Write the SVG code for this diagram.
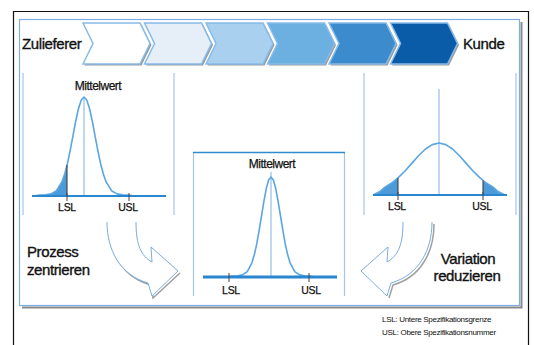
<svg xmlns="http://www.w3.org/2000/svg" width="534" height="345" viewBox="0 0 534 345">
<style>
.t{font-family:"Liberation Sans",Arial,sans-serif;fill:#111}
.big{font-size:15px;letter-spacing:-0.4px;stroke:#111;stroke-width:0.35}
.mw{font-size:12px;letter-spacing:-0.5px;text-anchor:middle;stroke:#111;stroke-width:0.25}
.lab{font-size:10.5px;letter-spacing:-0.3px;text-anchor:middle;stroke:#111;stroke-width:0.25}
.fn{font-size:8px;letter-spacing:-0.3px}
.chev{stroke:#86bbe8;stroke-width:1.5;stroke-linejoin:miter}
.chs{fill:#9a9a9a}
.div{stroke:#a6c3ea;stroke-width:1.2;fill:none}
.curve{fill:none;stroke:#5aa6e3;stroke-width:1.6;stroke-linejoin:round}
.mean{stroke:#7fb2e4;stroke-width:1}
.base{stroke:#2a86cf}
.tick{stroke:#444;stroke-width:1}
.shade{fill:#4c9ad8}
.arrow{fill:#fff;stroke:#79ade0;stroke-width:1}
.arrsh{fill:none;stroke:#a0a0a0;stroke-width:1.5}
</style>
<defs>
<polygon id="chv" points="0,0 57,0 67,20.5 57,41 0,41 10,20.5"/>
</defs>
<rect x="0" y="0" width="534" height="345" fill="#fff"/>
<path d="M13.5,345 V11.5 H528.5 V345" fill="none" stroke="#111" stroke-width="1.2"/>
<path d="M22,307.5 H521.5 V22" fill="none" stroke="#8a8a8a" stroke-width="2"/>
<rect x="19.5" y="19.5" width="500" height="286" fill="#fff" stroke="#7eaee6" stroke-width="1.2"/>

<g id="process-chevrons">
  <g id="chevron-1"><use href="#chv" x="84.5" y="24.5" class="chs"/><use href="#chv" x="83" y="23" class="chev" fill="#ffffff" stroke="#6aa9e2"/></g>
  <g id="chevron-2"><use href="#chv" x="146" y="24.5" class="chs"/><use href="#chv" x="144.5" y="23" class="chev" fill="#e6eef7"/></g>
  <g id="chevron-3"><use href="#chv" x="207.5" y="24.5" class="chs"/><use href="#chv" x="206" y="23" class="chev" fill="#a9d0ef"/></g>
  <g id="chevron-4"><use href="#chv" x="269" y="24.5" class="chs"/><use href="#chv" x="267.5" y="23" class="chev" fill="#6cb0e2"/></g>
  <g id="chevron-5"><use href="#chv" x="330.5" y="24.5" class="chs"/><use href="#chv" x="329" y="23" class="chev" fill="#3b8bcd"/></g>
  <g id="chevron-6"><use href="#chv" x="392" y="24.5" class="chs"/><use href="#chv" x="390.5" y="23" class="chev" fill="#0b5ca8"/></g>
</g>
<g id="label-zulieferer"><text class="t big" x="22" y="49">Zulieferer</text></g>
<g id="label-kunde"><text class="t big" x="463" y="49">Kunde</text></g>

<g id="dividers">
  <line class="div" x1="23" y1="73" x2="23" y2="215"/>
  <line class="div" x1="174" y1="73" x2="174" y2="215"/>
  <line class="div" x1="364" y1="73" x2="364" y2="215"/>
  <line class="div" x1="516" y1="73" x2="516" y2="215"/>
</g>

<g id="dist-left">
  <text class="t mw" x="98" y="90">Mittelwert</text>
  <polygon class="shade" points="40,195 45.5,194.8 51,193.9 56.5,190.7 62,181.7 64.75,173.8 67,165.3 67,195"/>
  <line class="mean" x1="84" y1="98" x2="84" y2="195"/>
  <polyline class="curve" points="36,195.5 40,195 45.5,194.8 51,193.9 56.5,190.7 62,181.7 64.75,173.8 67.5,163.2 70.25,150.1 73,135.6 75.75,121 78.5,108.5 81.25,100 84,97 86.75,100 89.5,108.5 92.25,121 95,135.6 97.75,150.1 100.5,163.2 103.25,173.8 106,181.7 111.5,190.7 117,193.9 122.5,194.8 128,195 132,195.5"/>
  <line x1="67" y1="165" x2="67" y2="195" stroke="#333" stroke-width="1"/>
  <line class="base" x1="32" y1="196" x2="166" y2="196" stroke-width="2"/>
  <line class="tick" x1="67" y1="193" x2="67" y2="201"/>
  <line class="tick" x1="129" y1="193" x2="129" y2="201"/>
  <text class="t lab" x="67" y="211">LSL</text>
  <text class="t lab" x="128" y="211">USL</text>
</g>

<g id="dist-middle">
  <path d="M193.5,296 V152.5 H344.5 V296" fill="none" stroke="#a6c3ea" stroke-width="1.2"/>
  <line x1="193" y1="152.5" x2="345" y2="152.5" stroke="#2f8bd2" stroke-width="1.5"/>
  <text class="t mw" x="272" y="168">Mittelwert</text>
  <line class="mean" x1="271" y1="172" x2="271" y2="276"/>
  <polyline class="curve" points="229,276.5 233,276 237.75,275.8 242.5,274.9 247.25,271.7 252,262.6 254.4,254.6 256.75,243.9 259.1,230.7 261.5,216 263.9,201.3 266.25,188.6 268.6,180 271,177 273.4,180 275.75,188.6 278.1,201.3 280.5,216 282.9,230.7 285.25,243.9 287.6,254.6 290,262.6 294.75,271.7 299.5,274.9 304.25,275.8 309,276 313,276.5"/>
  <line class="base" x1="203" y1="277" x2="337" y2="277" stroke-width="3"/>
  <line class="tick" x1="229" y1="273" x2="229" y2="282"/>
  <line class="tick" x1="309" y1="273" x2="309" y2="282"/>
  <text class="t lab" x="231" y="294">LSL</text>
  <text class="t lab" x="311" y="294">USL</text>
</g>

<g id="dist-right">
  <polygon class="shade" points="376,194 380,192 385,187.1 391.75,183 398,177.8 398,194"/>
  <polygon class="shade" points="483,180.5 486.25,183 493,187.1 498,192 502,194 483,194"/>
  <line class="mean" x1="439" y1="89" x2="439" y2="194"/>
  <polyline class="curve" points="374,194.5 380,191.5 385,187.1 391.75,183 398.5,177.4 405.25,170.7 412,163.1 418.75,155.5 425.5,149 432.25,144.6 439,143 445.75,144.6 452.5,149 459.25,155.5 466,163.1 472.75,170.7 479.5,177.4 486.25,183 493,187.1 498,191.5 504,194.5"/>
  <line x1="398" y1="178" x2="398" y2="195" stroke="#333" stroke-width="1"/>
  <line x1="483" y1="180.5" x2="483" y2="195" stroke="#333" stroke-width="1"/>
  <line class="base" x1="373" y1="195" x2="507" y2="195" stroke-width="2"/>
  <line class="tick" x1="398" y1="192" x2="398" y2="200"/>
  <line class="tick" x1="483" y1="192" x2="483" y2="200"/>
  <text class="t lab" x="397" y="210">LSL</text>
  <text class="t lab" x="482" y="210">USL</text>
</g>

<g id="connectors">
  <g id="arrow-left">
    <path class="arrsh" d="M109,224 C109,252 122,277 151,285 L153,298 L180,273"/>
    <path class="arrow" d="M107,222 C107,250 120,275 148,283 L152,296 L178,271 L151,247 L152,262 C141,256 136,245 136,222"/>
  </g>
  <g id="arrow-right">
    <path class="arrsh" d="M434,224 C434,252 421,277 393,285 L389,298"/>
    <path class="arrow" d="M432,222 C432,250 419,275 391,283 L387,296 L361,271 L388,247 L387,262 C398,256 403,245 403,222"/>
  </g>
</g>

<g id="label-prozess">
  <text class="t big" x="27" y="257">Prozess</text>
  <text class="t big" x="27" y="275">zentrieren</text>
</g>
<g id="label-variation">
  <text class="t big" x="468" y="264" text-anchor="middle">Variation</text>
  <text class="t big" x="467" y="281" text-anchor="middle">reduzieren</text>
</g>
<g id="footnotes">
  <text class="t fn" x="382" y="322">LSL: Untere Spezifikationsgrenze</text>
  <text class="t fn" x="382" y="335">USL: Obere Spezifikationsnummer</text>
</g>
</svg>
